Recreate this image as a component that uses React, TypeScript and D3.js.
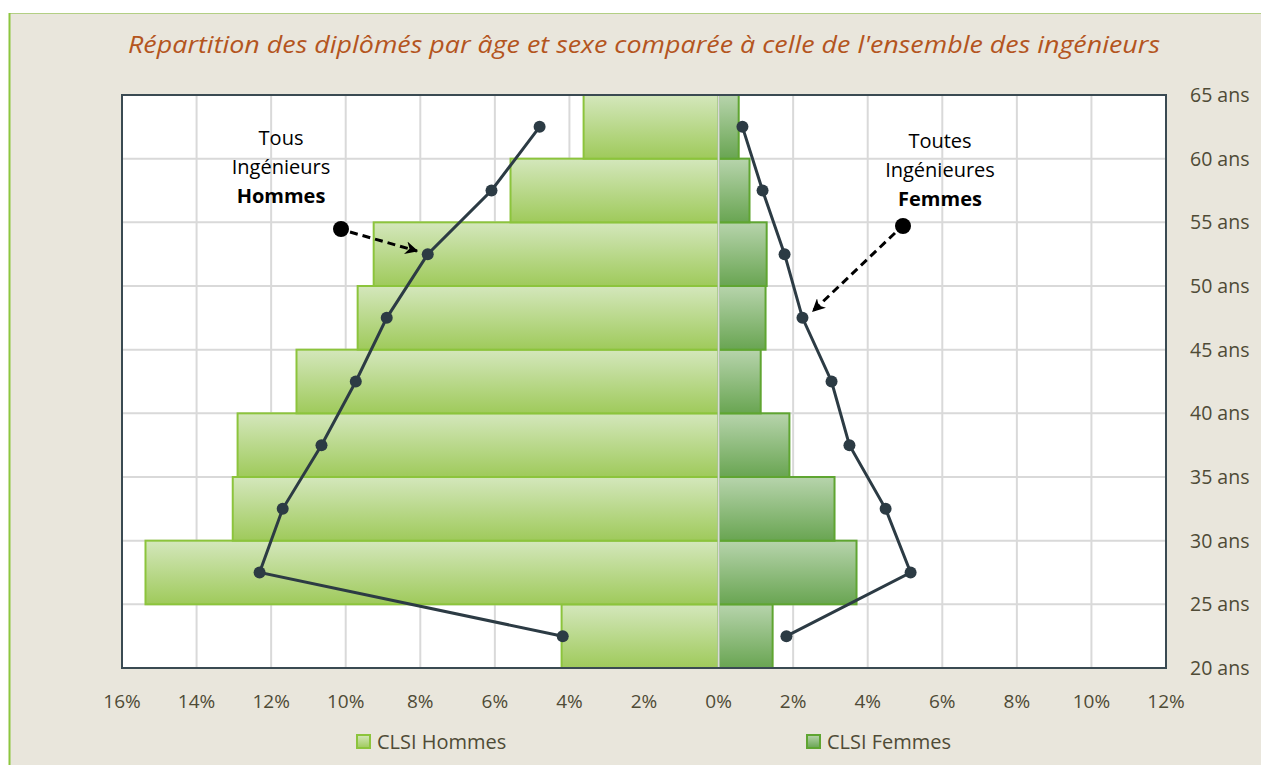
import React from "react";
import * as d3 from "d3";

const ages = [20, 25, 30, 35, 40, 45, 50, 55, 60];
const clsiHommes = [4.21, 15.37, 13.03, 12.9, 11.32, 9.68, 9.25, 5.58, 3.62];
const clsiFemmes = [1.45, 3.7, 3.11, 1.9, 1.13, 1.26, 1.29, 0.83, 0.54];
const tousHommes = [4.18, 12.31, 11.69, 10.65, 9.73, 8.9, 7.8, 6.09, 4.8];
const toutesFemmes = [1.82, 5.15, 4.48, 3.51, 3.03, 2.25, 1.77, 1.18, 0.64];
const xTicks = [-16, -14, -12, -10, -8, -6, -4, -2, 0, 2, 4, 6, 8, 10, 12];
const yTicks = [20, 25, 30, 35, 40, 45, 50, 55, 60, 65];

const W = 1261;
const H = 765;
const left = 122, right = 1166, top = 95, bottom = 668;
const FONT = "'Open Sans', 'Liberation Sans', sans-serif";

export default function App() {
  const x = d3.scaleLinear().domain([-16, 12]).range([left, right]);
  const y = d3.scaleLinear().domain([20, 65]).range([bottom, top]);
  const line = d3
    .line<[number, number]>()
    .x((d) => x(d[0]))
    .y((d) => y(d[1]));
  const menPts: [number, number][] = tousHommes.map((v, i) => [-v, ages[i] + 2.5]);
  const womenPts: [number, number][] = toutesFemmes.map((v, i) => [v, ages[i] + 2.5]);
  const lineColor = "#2C3B44";
  const tickColor = "#4F4B36";

  return (
    <svg width={W} height={H} style={{ position: "absolute", left: 0, top: 0 }}>
      <defs>
        <linearGradient id="gH" x1="0" y1="0" x2="0" y2="1">
          <stop offset="0" stopColor="#D4E7BC" />
          <stop offset="1" stopColor="#9FCA5B" />
        </linearGradient>
        <linearGradient id="gF" x1="0" y1="0" x2="0" y2="1">
          <stop offset="0" stopColor="#B7D4AC" />
          <stop offset="1" stopColor="#69A552" />
        </linearGradient>
        <marker id="arr" viewBox="0 0 10 10" refX="9" refY="5" markerWidth="13" markerHeight="13" orient="auto" markerUnits="userSpaceOnUse">
          <path d="M0,0 L10,5 L0,10 L3,5 Z" fill="#000" />
        </marker>
      </defs>
      <rect x={0} y={0} width={W} height={H} fill="#fff" />
      <rect x={9} y={13} width={W} height={H} fill="#E9E6DC" />
      <line x1={9} x2={W} y1={13.5} y2={13.5} stroke="#B3CF84" strokeWidth={1} />
      <line x1={9.5} x2={9.5} y1={13} y2={H} stroke="#8DC63F" strokeWidth={2} />
      <text
        x={644}
        y={53}
        textAnchor="middle"
        fontFamily={FONT}
        fontStyle="italic"
        fontSize={23}
        fill="#B4551E"
        textLength={1032}
        lengthAdjust="spacingAndGlyphs"
      >
        Répartition  des diplômés par âge et sexe comparée à celle de l'ensemble des ingénieurs
      </text>
      <rect x={left} y={top} width={right - left} height={bottom - top} fill="#fff" />
      {xTicks.map((t) => (
        <line key={"vx" + t} x1={x(t)} x2={x(t)} y1={top} y2={bottom} stroke="#D9D9D9" strokeWidth={2} />
      ))}
      {yTicks.map((t) => (
        <line key={"hy" + t} x1={left} x2={right} y1={y(t)} y2={y(t)} stroke="#D9D9D9" strokeWidth={2} />
      ))}
      {ages.map((a, i) => (
        <rect
          key={"h" + a}
          x={x(-clsiHommes[i])}
          y={y(a + 5)}
          width={x(0) - x(-clsiHommes[i])}
          height={y(a) - y(a + 5)}
          fill="url(#gH)"
          stroke="#8CC43C"
          strokeWidth={2}
        />
      ))}
      {ages.map((a, i) => (
        <rect
          key={"f" + a}
          x={x(0)}
          y={y(a + 5)}
          width={x(clsiFemmes[i]) - x(0)}
          height={y(a) - y(a + 5)}
          fill="url(#gF)"
          stroke="#5FA531"
          strokeWidth={2}
        />
      ))}
      <line x1={x(0)} x2={x(0)} y1={top} y2={bottom} stroke="#D9D9D9" strokeWidth={2} />
      <rect x={left} y={top} width={right - left} height={bottom - top} fill="none" stroke="#3A4A52" strokeWidth={2} />
      <path d={line(menPts) || ""} fill="none" stroke={lineColor} strokeWidth={3} />
      <path d={line(womenPts) || ""} fill="none" stroke={lineColor} strokeWidth={3} />
      {menPts.concat(womenPts).map((p, i) => (
        <circle key={"c" + i} cx={x(p[0])} cy={y(p[1])} r={6} fill={lineColor} />
      ))}
      {xTicks.map((t) => (
        <text key={"tx" + t} x={x(t)} y={708} textAnchor="middle" fontFamily={FONT} fontSize={19} fill={tickColor}>
          {Math.abs(t) + "%"}
        </text>
      ))}
      {yTicks.map((t) => (
        <text key={"ty" + t} x={1190} y={y(t) + 7} fontFamily={FONT} fontSize={19.5} fill={tickColor}>
          {t + " ans"}
        </text>
      ))}
      {/* annotations */}
      <g fontFamily={FONT} fontSize={20} fill="#000" textAnchor="middle">
        <text x={281} y={145}>Tous</text>
        <text x={281} y={174}>Ingénieurs</text>
        <text x={281} y={203} fontWeight="bold">Hommes</text>
        <text x={940} y={148}>Toutes</text>
        <text x={940} y={177}>Ingénieures</text>
        <text x={940} y={206} fontWeight="bold">Femmes</text>
      </g>
      <circle cx={341} cy={229} r={8} fill="#000" />
      <line x1={350} y1={232} x2={417} y2={251} stroke="#000" strokeWidth={3} strokeDasharray="8,5" markerEnd="url(#arr)" />
      <circle cx={903} cy={226} r={8} fill="#000" />
      <line x1={895} y1={233} x2={813} y2={311} stroke="#000" strokeWidth={3} strokeDasharray="8,5" markerEnd="url(#arr)" />
      {/* legend */}
      <rect x={357} y={735} width={13} height={13} fill="url(#gH)" stroke="#8CC43C" strokeWidth={2} />
      <text x={377} y={749} fontFamily={FONT} fontSize={20} fill={tickColor}>CLSI Hommes</text>
      <rect x={807} y={735} width={13} height={13} fill="url(#gF)" stroke="#5FA531" strokeWidth={2} />
      <text x={827} y={749} fontFamily={FONT} fontSize={20} fill={tickColor}>CLSI Femmes</text>
    </svg>
  );
}
